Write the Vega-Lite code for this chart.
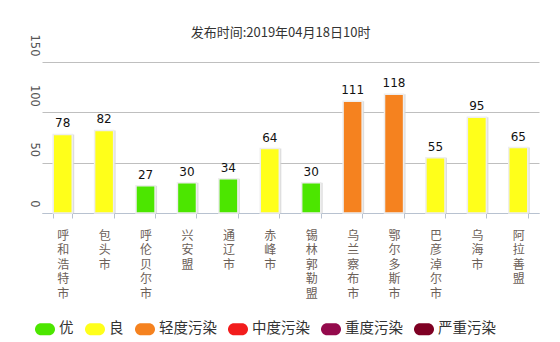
{
  "$schema": "https://vega.github.io/schema/vega-lite/v6.json",
  "autosize": "none",
  "width": 497,
  "height": 151,
  "padding": {"left": 42, "top": 62, "right": 21, "bottom": 129},
  "title": {
    "text": "发布时间:2019年04月18日10时",
    "fontSize": 13,
    "fontWeight": "normal",
    "color": "#333",
    "font": "Noto Sans CJK SC",
    "anchor": "middle",
    "offset": -6,
    "dx": -10
  },
  "config": {
    "view": {"stroke": null},
    "font": "DejaVu Sans"
  },
  "data": {
    "values": [
      {"city": "呼和浩特市", "aqi": 78, "level": "良"},
      {"city": "包头市", "aqi": 82, "level": "良"},
      {"city": "呼伦贝尔市", "aqi": 27, "level": "优"},
      {"city": "兴安盟", "aqi": 30, "level": "优"},
      {"city": "通辽市", "aqi": 34, "level": "优"},
      {"city": "赤峰市", "aqi": 64, "level": "良"},
      {"city": "锡林郭勒盟", "aqi": 30, "level": "优"},
      {"city": "乌兰察布市", "aqi": 111, "level": "轻度污染"},
      {"city": "鄂尔多斯市", "aqi": 118, "level": "轻度污染"},
      {"city": "巴彦淖尔市", "aqi": 55, "level": "良"},
      {"city": "乌海市", "aqi": 95, "level": "良"},
      {"city": "阿拉善盟", "aqi": 65, "level": "良"}
    ]
  },
  "encoding": {
    "x": {
      "field": "city",
      "type": "nominal",
      "sort": null,
      "scale": {"paddingInner": 0.54, "paddingOuter": 0.27},
      "axis": {
        "title": null,
        "labelAngle": 0,
        "labelExpr": "split(datum.label, '')",
        "labelFont": "Noto Sans CJK SC",
        "labelFontSize": 12,
        "labelLineHeight": 14.5,
        "labelColor": "#6b6058",
        "labelBaseline": "top",
        "labelPadding": 12,
        "tickBand": "extent",
        "tickSize": 5,
        "tickColor": "#b8c2d0",
        "domainColor": "#b8c2d0",
        "labelLimit": 0,
        "encode": {
          "labels": {
            "update": {
              "dy": {"signal": "(5 - length(datum.label)) * 7.25"}
            }
          }
        }
      }
    },
    "y": {
      "field": "aqi",
      "type": "quantitative",
      "scale": {"domain": [0, 150], "nice": false},
      "axis": {
        "title": null,
        "values": [0, 50, 100, 150],
        "domain": false,
        "ticks": false,
        "labelAngle": 90,
        "labelAlign": "right",
        "labelBaseline": "middle",
        "labelOffset": -6,
        "labelPadding": 9,
        "labelFontSize": 11.5,
        "labelColor": "#555",
        "gridColor": "#bfbfbf"
      }
    }
  },
  "layer": [
    {
      "mark": {"type": "bar", "color": "#d6d6d6", "xOffset": 2, "opacity": 0.8}
    },
    {
      "mark": {"type": "bar", "stroke": "#eeeeee", "strokeWidth": 1.5},
      "encoding": {
        "color": {
          "field": "level",
          "type": "nominal",
          "scale": {
            "domain": ["优", "良", "轻度污染", "中度污染", "重度污染", "严重污染"],
            "range": ["#4ce600", "#ffff1a", "#f5821f", "#f21c1c", "#940a4c", "#7e0023"]
          },
          "legend": {
            "title": null,
            "orient": "none",
            "direction": "horizontal",
            "legendX": -7,
            "legendY": 257,
            "symbolType": "M-0.4,-0.6L0.4,-0.6A0.6,0.6 0 0 1 0.4,0.6L-0.4,0.6A0.6,0.6 0 0 1 -0.4,-0.6Z",
            "symbolSize": 400,
            "symbolStrokeWidth": 0,
            "symbolOpacity": 1,
            "labelFont": "Noto Sans CJK SC",
            "labelFontSize": 14.5,
            "labelColor": "#333",
            "labelOffset": 4,
            "columnPadding": 11
          }
        }
      }
    },
    {
      "mark": {"type": "text", "baseline": "bottom", "dy": -4, "fontSize": 12, "color": "#111"},
      "encoding": {"text": {"field": "aqi", "type": "quantitative"}}
    }
  ]
}
